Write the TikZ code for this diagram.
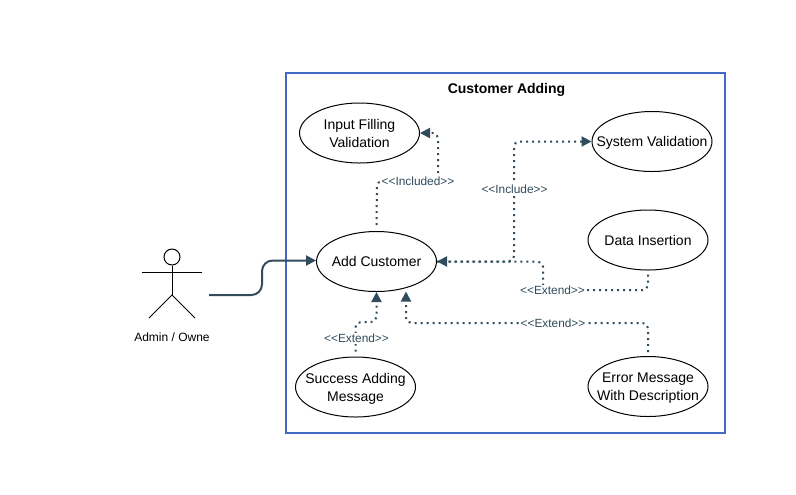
\documentclass[tikz,border=0pt]{standalone}
\usepackage{fontspec}
\setmainfont{Liberation Sans}
\usetikzlibrary{shapes.geometric,arrows.meta}
\definecolor{linkcol}{HTML}{2F4B5C}
\definecolor{boxcol}{HTML}{4468C4}
\tikzset{
  usecase/.style={draw=black,ellipse,line width=0.75pt,minimum width=90pt,minimum height=45pt,inner xsep=-12pt,inner ysep=-6pt,align=center,text depth=0pt,font=\fontsize{10.5}{13.5}\selectfont},
  dotlink/.style={draw=linkcol,line width=1.5pt,dash pattern=on 1.5pt off 3pt,rounded corners=4pt},
  tiplink/.style={-{Triangle[length=7.5pt,width=7.5pt,fill=linkcol,sep=0pt]}},
  linklabel/.style={fill=white,text=linkcol,inner sep=1pt,font=\fontsize{8.9}{10}\selectfont},
  actorline/.style={draw=black,line width=0.75pt}
}
\begin{document}
\begin{tikzpicture}[x=0.75pt,y=-0.75pt]
\useasboundingbox (0,0) rectangle (796,494);
\node[draw=boxcol,line width=1.5pt,minimum width=329pt,minimum height=270pt,inner sep=0pt] (systembox) at (505.5,253) {};
\node[font=\bfseries\fontsize{10.5}{13}\selectfont] (boxtitle) at (506.5,89.5) {Customer Adding};
% use cases
\node[usecase] (inputfill) at (359.5,133) {Input Filling\\Validation};
\node[usecase] (sysvalid) at (652,141.5) {System Validation};
\node[usecase] (datainsert) at (648,240) {Data Insertion};
\node[usecase] (addcust) at (376.5,261.5) {Add Customer};
\node[usecase] (successmsg) at (355.5,387) {Success Adding\\Message};
\node[usecase] (errormsg) at (648,386.5) {Error Message\\With Description};
% actor
\node[draw=black,circle,line width=0.75pt,minimum size=12pt,inner sep=0pt] (adminhead) at (172,257) {};
\coordinate (adminhip) at (172,295);
\coordinate (adminfoot) at (209,295);
\draw[actorline] (adminhead.south) -- (adminhip);
\draw[actorline] (142,272) -- (202,272);
\draw[actorline] (149,318) -- (adminhip) -- (195,318);
\node[font=\fontsize{9}{11}\selectfont] (adminlabel) at (172,337) {Admin / Owne};
% links
\draw[draw=linkcol,line width=1.5pt,rounded corners=8pt,tiplink] (adminfoot) -- (262,295) -- (262,260.5) -- (addcust.west |- 0,260.5);
\draw[dotlink,tiplink] (addcust.north) ++(0,-6) -- (377,181) -- (438,181) -- (438,133) -- (inputfill.east);
\node[linklabel] (includedlabel) at (418,181.5) {{<}{<}Included{>}{>}};
\draw[dotlink,tiplink] (addcust.east) -- (514,261.5) -- (514,141.5) -- (sysvalid.west);
\node[linklabel] (includelabel) at (514.5,189.5) {{<}{<}Include{>}{>}};
\draw[dotlink,tiplink] (datainsert.south) ++(0,4) -- (648,290) -- (543,290) -- (543,261.5) -- (addcust.east);
\node[linklabel] (extendlabela) at (552.5,290.5) {{<}{<}Extend{>}{>}};
\draw[dotlink,tiplink] (successmsg.north) ++(0,-5) -- (355.5,322) -- (376.5,322) -- (addcust.south);
\node[linklabel] (extendlabelb) at (356.5,338.5) {{<}{<}Extend{>}{>}};
\draw[dotlink,tiplink] (errormsg.north) ++(0,-4) -- (648,323) -- (406,323) -- (406,291.5);
\node[linklabel] (extendlabelc) at (553,323.5) {{<}{<}Extend{>}{>}};
\end{tikzpicture}
\end{document}
